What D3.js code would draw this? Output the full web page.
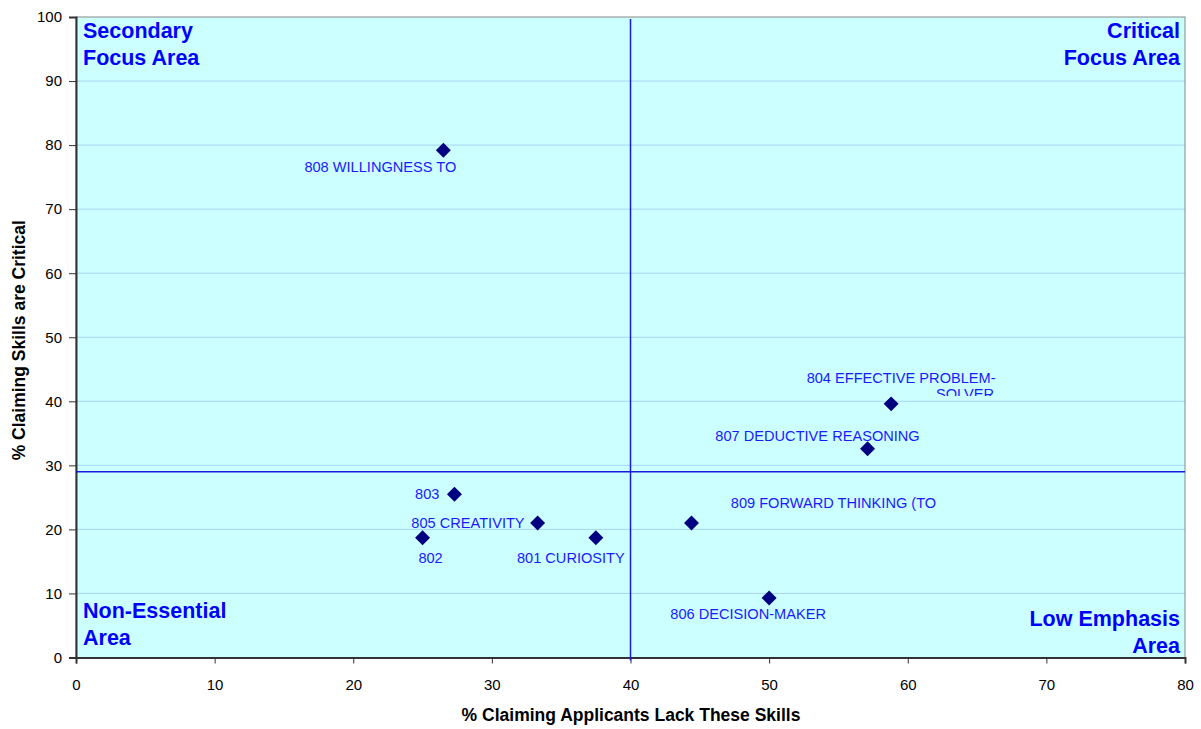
<!DOCTYPE html>
<html><head><meta charset="utf-8">
<script src="https://cdn.jsdelivr.net/npm/d3@7"></script>
<style>body{margin:0;background:#fff;} text{font-family:Arial,"Liberation Sans",sans-serif;}</style>
</head><body>
<svg id="c" width="1201" height="729"></svg>
<script>
const codes = ["808","804","807","803","805","802","801","809","806"];
const names = ["808 WILLINGNESS TO","804 EFFECTIVE PROBLEM-","807 DEDUCTIVE REASONING","803","805 CREATIVITY","802","801 CURIOSITY","809 FORWARD THINKING (TO","806 DECISION-MAKER"];
const lackPct = [26.5, 58.8, 57.1, 27.3, 33.3, 25.0, 37.5, 44.4, 50.0];
const criticalPct = [79.2, 39.6, 32.6, 25.5, 21.0, 18.7, 18.7, 21.0, 9.3];
const xTicks = [0,10,20,30,40,50,60,70,80];
const yTicks = [0,10,20,30,40,50,60,70,80,90,100];
const xRef = 40, yRef = 29;
const quadrants = [["Secondary","Focus Area"],["Critical","Focus Area"],["Non-Essential","Area"],["Low Emphasis","Area"]];
const xTitle = "% Claiming Applicants Lack These Skills";
const yTitle = "% Claiming Skills are Critical";

// layout (pixel offsets for labels relative to marker: [dx, dy, anchor])
const labelLayout = [[-63,22,"middle"],[10,-21,"middle"],[-50,-8,"middle"],[-15,5,"end"],[-13,5,"end"],[8,25,"middle"],[-25,25,"middle"],[142,-15,"middle"],[-21,21,"middle"]];

const svg = d3.select("#c");
const L=76, R=1185, T=17, B=657.5;
const x = d3.scaleLinear().domain([0,80]).range([L,R]);
const y = d3.scaleLinear().domain([0,100]).range([B,T]);

svg.append("rect").attr("x",L).attr("y",T).attr("width",R-L).attr("height",B-T).attr("fill","#ccffff");
svg.append("g").selectAll("line").data(yTicks.filter(d=>d>0&&d<100)).join("line")
  .attr("x1",L).attr("x2",R).attr("y1",d=>y(d)).attr("y2",d=>y(d)).attr("stroke","#a8d4f4").attr("stroke-width",1);
svg.append("rect").attr("x",L).attr("y",T).attr("width",R-L).attr("height",B-T).attr("fill","none").attr("stroke","#888").attr("stroke-width",1);

const xa = svg.append("g").attr("transform",`translate(0,${B})`).call(d3.axisBottom(x).tickValues(xTicks).tickSize(6).tickPadding(16).tickFormat(d3.format("d")));
const ya = svg.append("g").attr("transform",`translate(${L},0)`).call(d3.axisLeft(y).tickValues(yTicks).tickSize(7).tickPadding(7).tickFormat(d3.format("d")));
[xa,ya].forEach(a=>{a.select(".domain").attr("stroke","#333").attr("stroke-width",2);a.selectAll(".tick line").attr("stroke","#333");a.selectAll("text").attr("font-size",15).attr("fill","#000").style("font-family","Arial, 'Liberation Sans', sans-serif");});

// reference lines
svg.append("line").attr("x1",x(xRef)).attr("x2",x(xRef)).attr("y1",y(100)+2).attr("y2",B+3).attr("stroke","#1a1adb").attr("stroke-width",1.5);
svg.append("line").attr("x1",L).attr("x2",R).attr("y1",y(yRef)).attr("y2",y(yRef)).attr("stroke","#1a1adb").attr("stroke-width",1.5);

const defs = svg.append("defs");
defs.append("clipPath").attr("id","clipTop").append("rect").attr("x",900).attr("y",380).attr("width",200).attr("height",16);

// points
const pts = codes.map((c,i)=>({c, name:names[i], x:lackPct[i], y:criticalPct[i], lay:labelLayout[i]}));
svg.append("g").selectAll("path").data(pts).join("path")
  .attr("d", d3.symbol(d3.symbolSquare, 112)())
  .attr("transform", d=>`translate(${x(d.x)},${y(d.y)}) rotate(45)`)
  .attr("fill","#000080");

svg.append("g").selectAll("text").data(pts).join("text")
  .attr("x",d=>x(d.x)+d.lay[0]).attr("y",d=>y(d.y)+d.lay[1])
  .attr("text-anchor",d=>d.lay[2]).attr("font-size",14.6).attr("fill","#1a1aff").text(d=>d.name);

// wrapped second line of 804, clipped as in original
const p804 = pts[1];
svg.append("text").attr("x",x(p804.x)+103).attr("y",y(p804.y)-5).attr("text-anchor","end")
  .attr("font-size",14.6).attr("fill","#1a1aff").attr("clip-path","url(#clipTop)").text("SOLVER");

// quadrant labels
const qpos = [[L+7,38,"start"],[R-5,38,"end"],[L+7,618,"start"],[R-5,626,"end"]];
quadrants.forEach((q,i)=>{
  const t = svg.append("text").attr("font-size",21.5).attr("font-weight","bold").attr("fill","#0000ff").attr("text-anchor",qpos[i][2]);
  q.forEach((line,j)=>t.append("tspan").attr("x",qpos[i][0]).attr("y",qpos[i][1]+j*27).text(line));
});

svg.append("text").attr("x",631).attr("y",721).attr("text-anchor","middle").attr("font-size",17.5).attr("font-weight","bold").text(xTitle);
svg.append("text").attr("transform",`translate(25,${(T+B)/2+3}) rotate(-90)`).attr("text-anchor","middle").attr("font-size",17.5).attr("font-weight","bold").text(yTitle);
</script>
</body></html>
